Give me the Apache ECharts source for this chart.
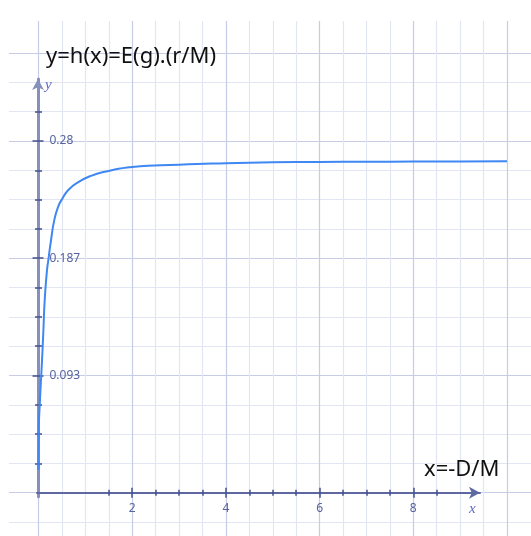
<!DOCTYPE html>
<html><head><meta charset="utf-8">
<script src="https://cdn.jsdelivr.net/npm/echarts@6/dist/echarts.min.js"></script>
<style>html,body{margin:0;padding:0;background:#fff;}#c{width:531px;height:536px;}</style>
</head><body><div id="c"></div>
<script>
// ---- data ----
const curveX = [0, 0.005, 0.032, 0.068, 0.102, 0.132, 0.181, 0.209, 0.267, 0.337, 0.423, 0.508, 0.636, 0.85, 1.136, 1.419, 2, 3, 4, 5, 6, 7, 8, 9, 10];
const curveY = [0.018, 0.048, 0.074, 0.100, 0.127, 0.153, 0.177, 0.185, 0.201, 0.217, 0.228, 0.234, 0.241, 0.2472, 0.2525, 0.2555, 0.2594, 0.2612, 0.2623, 0.2630, 0.2633, 0.2635, 0.2636, 0.2637, 0.2638];
const xTickMajor = [2, 4, 6, 8];
const xTickLabels = ['2', '4', '6', '8'];
const xTickMinor = [1.5, 2.5, 3, 3.5, 4.5, 5, 5.5, 6.5, 7, 7.5, 8.5];
const yTickMajor = [0.0933, 0.1867, 0.28];
const yTickLabels = ['0.093', '0.187', '0.28'];
const yTickMinor = [0.0233, 0.0467, 0.07, 0.1167, 0.14, 0.1633, 0.21, 0.2333, 0.2567, 0.3033];
const titleText = 'y=h(x)=E(g).(r/M)';
const xNameText = 'x=-D/M';
const xAxisSymbol = 'x';
const yAxisSymbol = 'y';

// ---- layout ----
const X0 = 38.5, PXU = 46.85;     // pixel of x=0, px per x unit
const Y0 = 492.7, PYU = 1256;     // pixel of y=0, px per y unit
const yStep = 0.28 / 12;          // grid step on y
const xStep = 0.5;
const xMax = 10;

const MINOR = '#e2e6f2', MAJOR = '#c6cce4';
const TICK = '#43508e', LABEL = '#56639e';

const mainTop = Y0 - 13 * yStep * PYU;
const none = {show: false};

function labelFor(vals, labels) {
  return function (v) {
    for (let i = 0; i < vals.length; i++) if (Math.abs(vals[i] - v) < 1e-6) return labels[i];
    return '';
  };
}

const grids = [
  {left: X0, top: mainTop, width: xMax * PXU, height: 13 * yStep * PYU},
  {left: X0, top: 21, width: xMax * PXU, height: 536 - 21},
  {left: 9, top: Y0 - 15 * yStep * PYU, width: 522, height: 16 * yStep * PYU},
  {left: 37, top: Y0 - 10, width: 443, height: 10},
  {left: X0 - 0.5, top: 79, width: 10, height: Y0 + 4 - 79}
].map(g => Object.assign({outerBoundsMode: 'none', containLabel: false, show: false}, g));

const hidden = (gi, extra) => Object.assign({gridIndex: gi, type: 'value', show: false, min: 0, max: 1}, extra || {});

const xAxes = [
  {gridIndex: 0, type: 'value', min: 0, max: xMax, position: 'bottom', show: true,
   axisLine: {show: false, onZero: false}, axisTick: none, axisLabel: none, splitLine: none},
  {gridIndex: 0, type: 'value', min: 0, max: xMax, position: 'bottom', offset: 3, z: 3,
   axisLine: {show: false, onZero: false},
   axisTick: {show: true, inside: true, length: 6, customValues: xTickMinor, lineStyle: {color: TICK, width: 1.5}},
   axisLabel: none, splitLine: none},
  {gridIndex: 0, type: 'value', min: 0, max: xMax, position: 'bottom', offset: 5, z: 3,
   axisLine: {show: false, onZero: false},
   axisTick: {show: true, inside: true, length: 10, customValues: xTickMajor, lineStyle: {color: TICK, width: 1.5}},
   axisLabel: {show: true, customValues: xTickMajor, formatter: labelFor(xTickMajor, xTickLabels),
               margin: 4.5, color: LABEL, fontSize: 12, fontFamily: 'Noto Sans'},
   splitLine: none},
  {gridIndex: 1, type: 'value', min: 0, max: xMax, interval: xStep, position: 'bottom', z: 0,
   axisLine: {show: false, onZero: false}, axisTick: none, axisLabel: none,
   splitLine: {show: true, lineStyle: {color: [MAJOR, MINOR, MINOR, MINOR], width: 1.2}}},
  hidden(2),
  {gridIndex: 3, type: 'value', min: 0, max: 1, position: 'bottom', z: 2,
   axisLine: {show: true, onZero: false, symbol: ['none', 'arrow'], symbolSize: [9, 11],
              lineStyle: {color: '#5d68a3', width: 2}},
   axisTick: none, axisLabel: none, splitLine: none},
  hidden(4)
];

const yAxes = [
  {gridIndex: 0, type: 'value', min: 0, max: 13 * yStep, position: 'left', show: true,
   axisLine: {show: false, onZero: false}, axisTick: none, axisLabel: none, splitLine: none},
  {gridIndex: 0, type: 'value', min: 0, max: 13 * yStep, position: 'left', offset: 3.5, z: 3,
   axisLine: {show: false, onZero: false},
   axisTick: {show: true, inside: true, length: 7, customValues: yTickMinor, lineStyle: {color: TICK, width: 1.5}},
   axisLabel: none, splitLine: none},
  {gridIndex: 0, type: 'value', min: 0, max: 13 * yStep, position: 'left', offset: 6, z: 3,
   axisLine: {show: false, onZero: false},
   axisTick: {show: true, inside: true, length: 11, customValues: yTickMajor, lineStyle: {color: TICK, width: 1.5}},
   axisLabel: {show: true, inside: true, customValues: yTickMajor, formatter: labelFor(yTickMajor, yTickLabels),
               margin: 17, color: LABEL, fontSize: 12, fontFamily: 'Noto Sans'},
   splitLine: none},
  hidden(1),
  {gridIndex: 2, type: 'value', min: -yStep, max: 15 * yStep, interval: yStep, position: 'left', z: 0,
   axisLine: {show: false, onZero: false}, axisTick: none, axisLabel: none,
   splitLine: {show: true, lineStyle: {color: [MINOR, MAJOR, MINOR, MINOR], width: 1.2}}},
  hidden(3),
  {gridIndex: 4, type: 'value', min: 0, max: 1, position: 'left', z: 2,
   axisLine: {show: true, onZero: false, symbol: ['none', 'arrow'], symbolSize: [9, 11],
              lineStyle: {color: '#8790ba', width: 3}},
   axisTick: none, axisLabel: none, splitLine: none}
];

const option = {
  animation: false,
  backgroundColor: '#ffffff',
  title: [
    {text: titleText, left: 46, top: 46, padding: 0,
     textStyle: {fontFamily: 'Noto Sans', fontSize: 22, fontWeight: 'normal', color: '#111111'}},
    {text: xNameText, left: 424, top: 459, padding: 0,
     textStyle: {fontFamily: 'Noto Sans', fontSize: 22, fontWeight: 'normal', color: '#111111'}},
    {text: yAxisSymbol, left: 45, top: 78, padding: 0,
     textStyle: {fontFamily: 'Liberation Serif', fontStyle: 'italic', fontSize: 15, fontWeight: 'normal', color: '#5d6cc0'}},
    {text: xAxisSymbol, left: 469, top: 502, padding: 0,
     textStyle: {fontFamily: 'Liberation Serif', fontStyle: 'italic', fontSize: 15, fontWeight: 'normal', color: '#5d6cc0'}}
  ],
  grid: grids,
  xAxis: xAxes,
  yAxis: yAxes,
  series: [{
    type: 'line',
    xAxisIndex: 0, yAxisIndex: 0,
    data: curveX.map((x, i) => [x, curveY[i]]),
    showSymbol: false,
    smooth: 0.55,
    lineStyle: {color: '#3f87f3', width: 2},
    z: 5
  }]
};

const chart = echarts.init(document.getElementById('c'), null, {renderer: 'canvas'});
chart.setOption(option);
</script>
</body></html>
